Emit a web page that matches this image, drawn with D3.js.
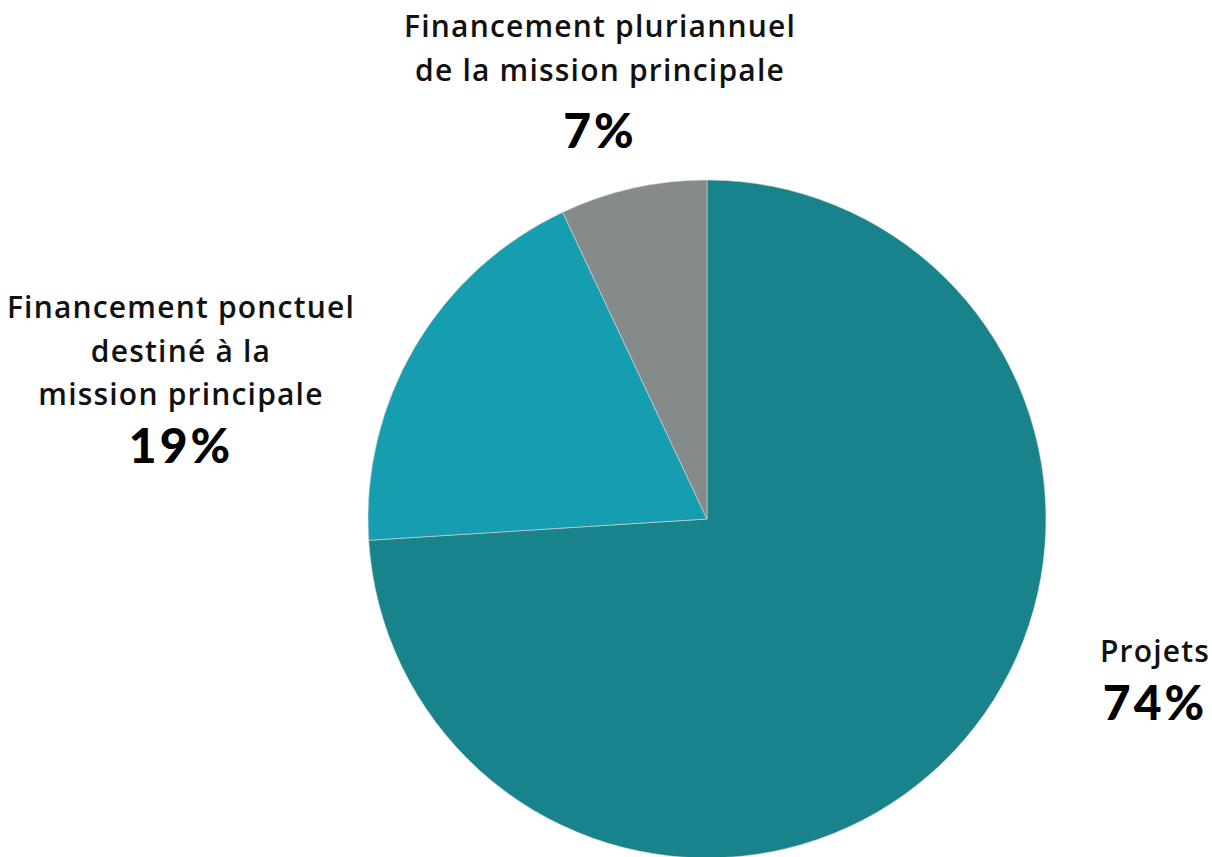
<!DOCTYPE html>
<html>
<head>
<meta charset="utf-8">
<script src="https://cdn.jsdelivr.net/npm/d3@7"></script>
<style>
  body { margin: 0; background: #fff; }
  text { font-family: "Open Sans", "Noto Sans", sans-serif; }
</style>
</head>
<body>
<script>
var width = 1212,
    height = 857;

var categories = ["Projets", "Financement ponctuel destiné à la mission principale", "Financement pluriannuel de la mission principale"];
var values = [74, 19, 7];
var colors = ["#19838c", "#169daf", "#858a8a"];
// label lines per slice
var labelLines = [
    ["Projets"],
    ["Financement ponctuel", "destiné à la", "mission principale"],
    ["Financement pluriannuel", "de la mission principale"]
];
var labelPos = [[1155, 662], [181, 318], [600, 37]];

var svg = d3.select("body").append("svg")
    .attr("width", width)
    .attr("height", height);

var cx = 707, cy = 519, radius = 339;

var pie = d3.pie().sort(null).value(function(d) { return d; });
var arc = d3.arc().innerRadius(0).outerRadius(radius);

var g = svg.append("g").attr("transform", "translate(" + cx + "," + cy + ")");

g.selectAll("path")
    .data(pie(values))
    .enter().append("path")
    .attr("d", arc)
    .attr("fill", function(d, i) { return colors[i]; })
    .attr("stroke", "#d8d8d8")
    .attr("stroke-width", 0.6);

var labels = svg.selectAll("g.label")
    .data(categories)
    .enter().append("g")
    .attr("class", "label")
    .attr("transform", function(d, i) { return "translate(" + labelPos[i][0] + "," + labelPos[i][1] + ")"; });

labels.each(function(d, i) {
    var sel = d3.select(this);
    labelLines[i].forEach(function(line, j) {
        sel.append("text")
            .attr("y", j * 43.5)
            .attr("text-anchor", "middle")
            .attr("font-size", 30)
            .attr("font-weight", 600)
            .attr("letter-spacing", 1.2)
            .attr("fill", "#111")
            .text(line);
    });
    var lastY = (labelLines[i].length - 1) * 43.5;
    sel.append("text")
        .attr("y", lastY + (i == 2 ? 67 : 58))
        .attr("text-anchor", "middle")
        .attr("font-size", 48)
        .attr("font-weight", 900)
        .attr("letter-spacing", 3)
        .attr("fill", "#000")
        .style("font-family", "Lato, 'Open Sans', sans-serif")
        .text(values[i] + "%");
});
</script>
</body>
</html>
